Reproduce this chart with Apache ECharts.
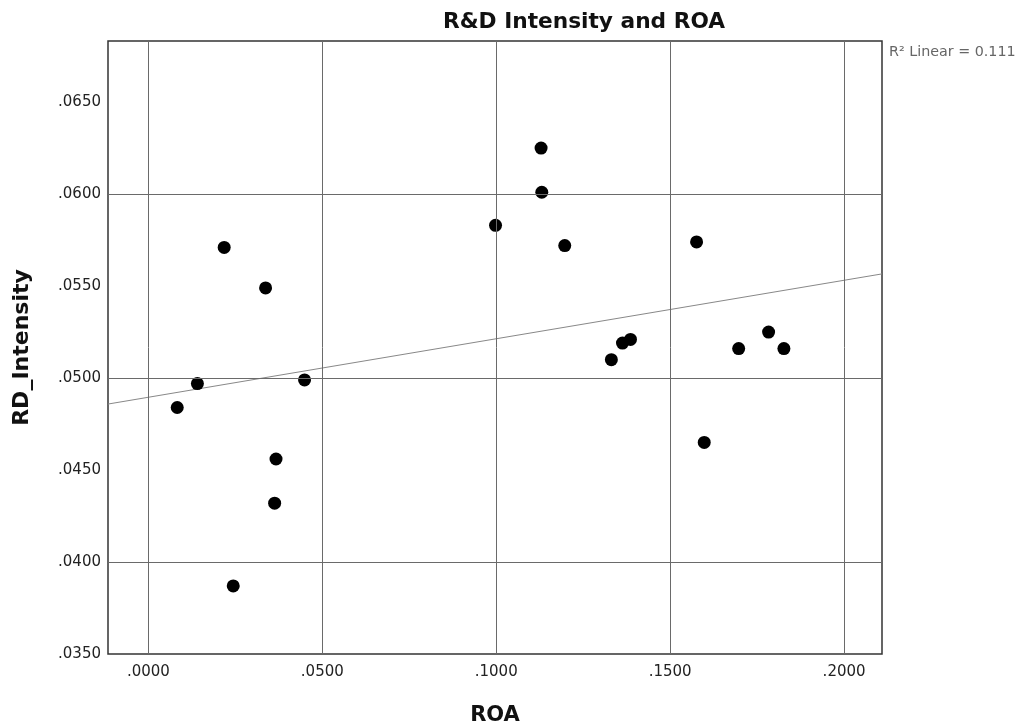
<!DOCTYPE html>
<html>
<head>
<meta charset="utf-8">
<script src="https://cdn.jsdelivr.net/npm/echarts@6/dist/echarts.min.js"></script>
<style>html,body{margin:0;padding:0;background:#fff;}#c{width:1032px;height:726px;}</style>
</head>
<body>
<div id="c"></div>
<script>
// ROA (x) and RD_Intensity (y)
const roa = [0.0083, 0.0141, 0.0218, 0.0244, 0.0337, 0.0367, 0.0363, 0.0449, 0.0998, 0.1129,
             0.1131, 0.1197, 0.1331, 0.1363, 0.1386, 0.1576, 0.1598, 0.1697, 0.1783, 0.1827];
const rdIntensity = [0.0484, 0.0497, 0.0571, 0.0387, 0.0549, 0.0456, 0.0432, 0.0499, 0.0583, 0.0625,
                     0.0601, 0.0572, 0.0510, 0.0519, 0.0521, 0.0574, 0.0465, 0.0516, 0.0525, 0.0516];
const xTickValues = [0, 0.05, 0.10, 0.15, 0.20];
const xTickLabels = ['.0000', '.0500', '.1000', '.1500', '.2000'];
const yTickValues = [0.035, 0.040, 0.045, 0.050, 0.055, 0.060, 0.065];
const yTickLabels = ['.0350', '.0400', '.0450', '.0500', '.0550', '.0600', '.0650'];
const chartTitle = 'R&D Intensity and ROA';
const xName = 'ROA';
const yName = 'RD_Intensity';
const fitLabel = 'R\u00B2 Linear = 0.111';

const X_MIN = -0.0116, X_MAX = 0.2109, Y_MIN = 0.035, Y_MAX = 0.06832;

// least squares fit line
const n = roa.length;
const mx = roa.reduce((a, b) => a + b, 0) / n;
const my = rdIntensity.reduce((a, b) => a + b, 0) / n;
let sxy = 0, sxx = 0;
for (let i = 0; i < n; i++) { sxy += (roa[i] - mx) * (rdIntensity[i] - my); sxx += (roa[i] - mx) ** 2; }
const slope = sxy / sxx, icpt = my - slope * mx;
const fitData = [[X_MIN, icpt + slope * X_MIN], [X_MAX, icpt + slope * X_MAX]];

function lookup(vals, labels, v) {
  for (let i = 0; i < vals.length; i++) if (Math.abs(vals[i] - v) < 1e-9) return labels[i];
  return '';
}

const FONT = 'DejaVu Sans';
const chart = echarts.init(document.getElementById('c'), null, { renderer: 'canvas' });
chart.setOption({
  animation: false,
  backgroundColor: '#fff',
  textStyle: { fontFamily: FONT },
  grid: { left: 108, right: 150, top: 41, bottom: 72, show: true, borderColor: '#333', borderWidth: 1.5,
          backgroundColor: 'transparent', containLabel: false, outerBoundsMode: 'none' },
  xAxis: {
    type: 'value', min: X_MIN, max: X_MAX,
    name: xName, nameLocation: 'middle', nameGap: 51,
    nameTextStyle: { fontFamily: FONT, fontWeight: 'bold', fontSize: 21, color: '#111' },
    axisLine: { show: false }, axisTick: { show: false }, splitLine: { show: false },
    axisLabel: { customValues: xTickValues, formatter: v => lookup(xTickValues, xTickLabels, v),
      fontFamily: FONT, fontSize: 15, color: '#222', margin: 11 }
  },
  yAxis: {
    type: 'value', min: Y_MIN, max: Y_MAX,
    name: yName, nameLocation: 'middle', nameGap: 75, nameRotate: 90,
    nameTextStyle: { fontFamily: FONT, fontWeight: 'bold', fontSize: 22, color: '#111' },
    axisLine: { show: false }, axisTick: { show: false }, splitLine: { show: false },
    axisLabel: { customValues: yTickValues, formatter: v => lookup(yTickValues, yTickLabels, v),
      fontFamily: FONT, fontSize: 15, color: '#222', margin: 7 }
  },
  graphic: [
    { type: 'text', x: 584, y: 22, style: { text: chartTitle, fontFamily: FONT, fontWeight: 'bold', fontSize: 21.7, fill: '#111', align: 'center', verticalAlign: 'middle' } },
    { type: 'text', x: 889, y: 52, style: { text: fitLabel, fontFamily: FONT, fontSize: 14.3, fill: '#666', align: 'left', verticalAlign: 'middle' } }
  ],
  series: [
    {
      type: 'scatter', data: [], z: 1, silent: true,
      markLine: {
        silent: true, symbol: ['none', 'none'], label: { show: false },
        lineStyle: { color: '#6a6a6a', width: 1, type: 'solid' },
        data: xTickValues.map(v => ({ xAxis: v })).concat(yTickValues.slice(1).map(v => ({ yAxis: v })))
      }
    },
    {
      type: 'line', data: fitData, z: 2, showSymbol: false, symbol: 'none', silent: true,
      lineStyle: { color: '#888', width: 1 }
    },
    {
      type: 'scatter', z: 3, symbol: 'circle', symbolSize: 13,
      itemStyle: { color: '#000', opacity: 1 },
      data: roa.map((x, i) => [x, rdIntensity[i]])
    }
  ]
});
</script>
</body>
</html>
